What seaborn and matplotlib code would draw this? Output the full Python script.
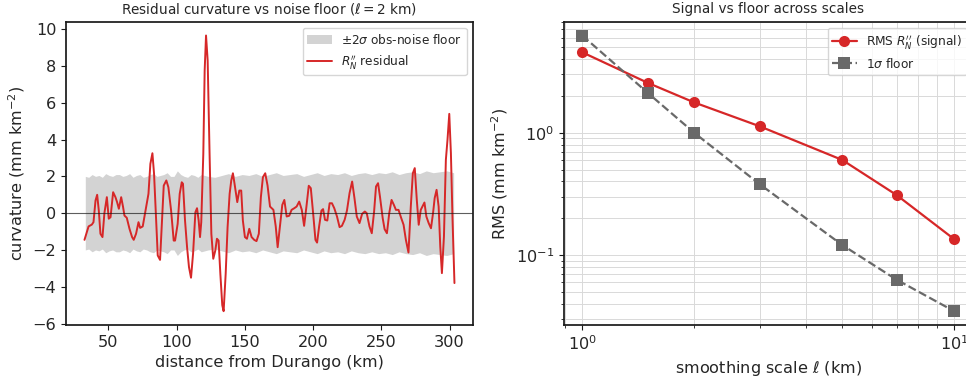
import numpy as np
import pandas as pd
import matplotlib
matplotlib.use("Agg")
import matplotlib.pyplot as plt
import seaborn as sns

# residual curvature along the profile (l = 2 km)
dist_km = [32.4, 35.4, 37.8, 39.0, 40.5, 41.7, 42.9, 44.1, 45.6, 47.0, 48.8, 50.2, 51.5, 53.4, 55.1,
           56.3, 57.6, 59.3, 60.7, 61.7, 63.4, 65.4, 67.3, 68.5, 70.2, 72.0, 73.2, 75.1, 76.3, 77.6,
           79.3, 80.7, 82.2, 83.4, 84.9, 86.1, 87.8, 89.0, 90.5, 92.4, 93.9, 95.9, 97.8, 98.8, 100.7,
           102.2, 103.7, 104.6, 106.1, 107.6, 109.0, 110.5, 112.0, 113.7, 114.9, 116.1, 117.1, 118.0,
           119.5, 120.5, 121.5, 122.7, 124.1, 125.4, 126.8, 128.3, 129.5, 130.7, 132.0, 133.4, 134.4,
           135.9, 137.3, 138.8, 140.0, 141.2, 142.4, 144.4, 145.9, 147.3, 148.5, 150.0, 151.5, 153.2,
           154.9, 156.8, 158.5, 160.2, 161.7, 163.2, 164.9, 166.6, 168.4, 170.9, 172.6, 174.0, 175.7,
           177.4, 178.9, 180.6, 182.5, 184.2, 186.2, 187.9, 189.8, 191.7, 193.4, 195.1, 196.8, 198.3,
           200.0, 201.7, 202.9, 204.4, 206.1, 207.3, 208.7, 210.4, 212.1, 213.8, 215.5, 217.5, 219.4,
           221.1, 223.1, 224.8, 226.7, 228.6, 230.3, 232.0, 234.0, 235.9, 237.9, 239.3, 241.3, 243.0,
           244.7, 246.1, 247.6, 249.0, 251.0, 252.4, 254.1, 255.8, 257.5, 259.2, 260.7, 262.6, 264.6,
           266.3, 268.0, 269.9, 271.6, 273.1, 274.5, 276.0, 277.4, 278.9, 280.1, 281.6, 283.0, 284.7,
           286.4, 287.9, 289.1, 290.5, 292.0, 293.2, 294.4, 295.9, 297.3, 298.5, 299.8, 301.0, 302.2,
           303.6]
residual = [-1.45, -0.72, -0.62, -0.49, 0.69, 1.0, 0.14, -1.12, -1.3, 0.0, 0.87, -0.3, -0.22, 1.14, 0.87,
            0.6, 0.24, 0.87, 0.33, -0.13, -0.25, -0.85, -1.3, -1.45, -1.12, -0.49, -0.8, -0.72, -0.22, 0.33,
            1.05, 2.68, 3.26, 2.14, -0.4, -2.3, -2.54, -0.76, 1.5, 1.78, 1.41, 0.14, -1.49, -1.49, -0.58,
            1.05, 1.68, 1.6, -0.4, -1.85, -2.93, -3.51, -2.2, 0.05, 0.27, -0.4, -1.3, -0.49,
            3.22, 7.75, 9.66, 8.3, 3.22, -1.12, -2.48, -2.03, -1.39, -1.49, -3.3, -5.0, -5.33,
            -3.3, -0.76, 1.05, 1.78, 2.17, 1.6, 0.6, 1.23, 1.23, -0.4, -1.3, -1.39, -0.85,
            -1.3, -1.45, -1.52, -1.12, 0.87, 1.96, 2.17, 1.5, 0.36, 0.18, -0.72, -1.85, -0.72,
            0.45, 0.72, -0.18, -0.14, 0.18, 0.27, 0.36, 0.63, 0.18, -0.69, 0.36, 1.49, 1.36,
            0.0, -1.45, -1.6, -0.72, 0.14, 0.22, -0.36, -0.4, 0.54, 0.54, 0.27, -0.18, -0.76,
            -0.69, -0.36, 0.14, 1.09, 1.72, 0.82, -0.18, -0.54, -0.04, 0.09, 0.0, -0.72, -1.09,
            0.09, 1.45, 1.63, 0.9, -0.27, -0.87, -1.09, 0.0, 0.72, 0.45, 0.18, 0.18, -0.27,
            -0.63, -1.45, -2.14, 0.36, 2.17, 2.45, 0.72, -0.63, 0.18, 0.36, 0.58, -0.18, -0.54,
            -0.82, 0.0, 0.82, 1.27, 0.36, -1.81, -3.26, -1.27, 2.9, 3.99, 5.4, 3.26, -0.36,
            -3.8]

# +/- 2 sigma observation-noise floor
band_km = [33, 35.5, 38, 40.5, 43, 45.5, 48, 50.5, 53, 55.5, 58, 60.5, 63, 65.5, 68, 70.5, 73, 75.5,
           78, 80.5, 83, 85.5, 88, 90.5, 93, 95.5, 98, 100.5, 103, 105.5, 108, 110.5, 113, 115.5,
           118, 123, 128, 133, 138, 143, 148, 153, 158, 163, 168, 173, 178, 183, 188, 193, 198, 203,
           208, 213, 218, 223, 228, 233, 238, 243, 248, 253, 258, 263, 268, 273, 278, 283, 288, 293,
           298, 303]
band_2sig = [2.0, 1.95, 2.1, 2.0, 2.05, 1.95, 2.15, 2.05, 2.0, 2.1, 2.1, 2.0, 2.05, 2.15, 1.95, 2.05,
             2.1, 1.95, 2.0, 2.1, 2.15, 2.0, 2.05, 2.1, 2.2, 2.0, 2.0, 2.3, 2.1, 2.0, 1.95, 2.1, 2.05,
             1.95, 2.1, 2.0, 1.95, 2.05, 2.15, 2.0, 2.1, 2.05, 2.15, 2.0, 2.1, 2.2, 2.05, 2.1, 2.15,
             2.0, 2.1, 2.2, 2.05, 2.15, 2.1, 2.2, 2.05, 2.15, 2.2, 2.1, 2.2, 2.15, 2.25, 2.1, 2.2,
             2.25, 2.15, 2.3, 2.2, 2.25, 2.3, 2.2]

# RMS signal vs 1 sigma floor across smoothing scales
scale_km = [1, 1.5, 2, 3, 5, 7, 10]
rms_signal = [4.55, 2.56, 1.77, 1.13, 0.60, 0.31, 0.135]
floor_1sig = [6.24, 2.12, 1.0, 0.38, 0.121, 0.063, 0.0348]

sns.set_theme(style="ticks")
plt.rcParams['font.family'] = ['DejaVu Sans']
plt.rcParams['mathtext.fontset'] = 'dejavusans'
plt.rcParams['axes.edgecolor'] = '0.1'

RED = "#d62728"
fig = plt.figure(figsize=(9.66, 3.81), dpi=100)
ax1 = fig.add_axes([0.0683, 0.147, 0.4213, 0.796])
ax2 = fig.add_axes([0.5835, 0.147, 0.4235, 0.796])

# left panel
ax1.fill_between(band_km, -np.array(band_2sig), band_2sig, color="lightgray", lw=0,
                 label=r"$\pm2\sigma$ obs-noise floor")
df = pd.DataFrame({"km": dist_km, "res": residual})
sns.lineplot(data=df, x="km", y="res", ax=ax1, color=RED, lw=1.4, sort=False,
             label=r"$R_N''$ residual")
ax1.axhline(0, color="k", lw=0.8, alpha=0.7)
ax1.set_title(r"Residual curvature vs noise floor ($\ell=2$ km)", fontsize=9.8)
ax1.set_xlabel("distance from Durango (km)", fontsize=11.6)
ax1.set_ylabel(r"curvature (mm km$^{-2}$)", fontsize=11.6)
ax1.legend(loc="upper right", fontsize=8.7, frameon=True)

# right panel
sig = pd.DataFrame({"scale": scale_km, "rms": rms_signal})
flo = pd.DataFrame({"scale": scale_km, "rms": floor_1sig})
sns.lineplot(data=sig, x="scale", y="rms", ax=ax2, color=RED, lw=1.6, marker="o",
             markersize=8, markeredgewidth=0, label=r"RMS $R_N''$ (signal)")
sns.lineplot(data=flo, x="scale", y="rms", ax=ax2, color="dimgray", lw=1.6, ls="--",
             marker="s", markersize=8, markeredgewidth=0, label=r"1$\sigma$ floor")
ax2.set_xscale("log")
ax2.set_yscale("log")
ax2.grid(True, which="both", color="0.85", lw=0.7)
ax2.set_title("Signal vs floor across scales", fontsize=9.8)
ax2.set_xlabel(r"smoothing scale $\ell$ (km)", fontsize=11.6)
ax2.set_ylabel(r"RMS (mm km$^{-2}$)", fontsize=11.6)
ax2.legend(loc="upper right", fontsize=8.7, frameon=True)

for ax in (ax1, ax2):
    ax.tick_params(which="major", labelsize=11.6, length=3.5, width=0.8, color="0.1")
    ax.tick_params(which="minor", length=2, width=0.6, color="0.1")

fig.savefig("out.png", dpi=100)
